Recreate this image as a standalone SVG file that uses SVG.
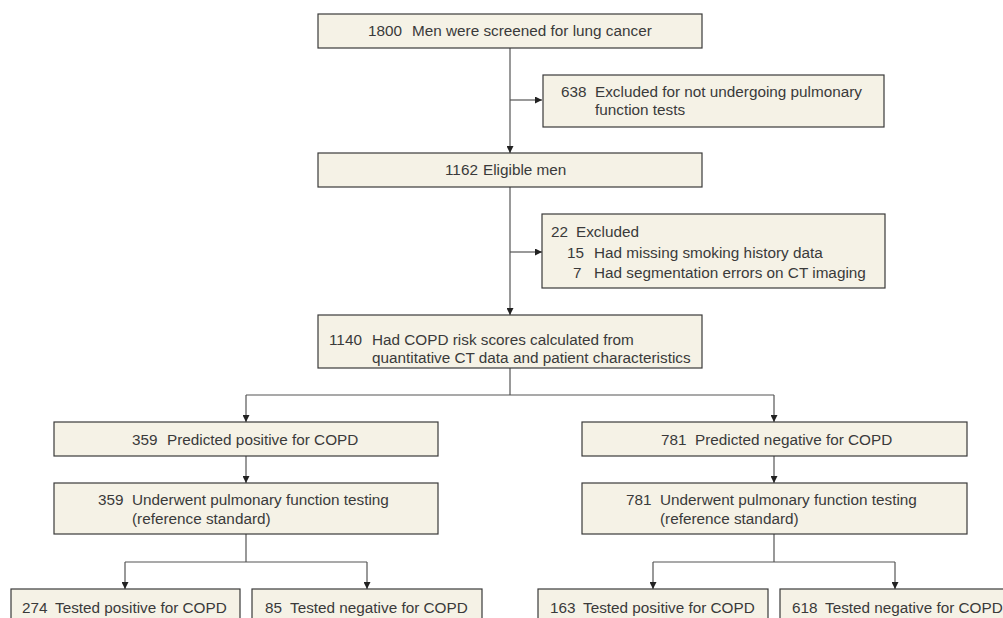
<svg xmlns="http://www.w3.org/2000/svg" width="1003" height="618" viewBox="0 0 1003 618">
<style>
.box{fill:#f5f2e6;stroke:#3a3a3a;stroke-width:1.2}
.t{font-family:"Liberation Sans",Arial,sans-serif;font-size:15.3px;fill:#3a3a3a}
.c{stroke:#555;stroke-width:1.2;fill:none}
</style>
<defs>
<marker id="ah" viewBox="0 0 10 10" refX="10" refY="5" markerWidth="7" markerHeight="7" markerUnits="userSpaceOnUse" orient="auto">
<path d="M0,0 L10,5 L0,10 z" fill="#222"/>
</marker>
</defs>
<rect width="1003" height="618" fill="#fff"/>
<g id="connectors">
<path class="c" d="M510,48 V153" marker-end="url(#ah)"/>
<path class="c" d="M510,100 H542" marker-end="url(#ah)"/>
<path class="c" d="M510,187 V315" marker-end="url(#ah)"/>
<path class="c" d="M510,252 H542" marker-end="url(#ah)"/>
<path class="c" d="M510,368 V395"/>
<path class="c" d="M246,395 H774"/>
<path class="c" d="M246,395 V422" marker-end="url(#ah)"/>
<path class="c" d="M774,395 V422" marker-end="url(#ah)"/>
<path class="c" d="M246,456 V483" marker-end="url(#ah)"/>
<path class="c" d="M774,456 V483" marker-end="url(#ah)"/>
<path class="c" d="M246,534 V562 M125,562 H367"/>
<path class="c" d="M125,562 V589" marker-end="url(#ah)"/>
<path class="c" d="M367,562 V589" marker-end="url(#ah)"/>
<path class="c" d="M774,534 V562 M653,562 H895"/>
<path class="c" d="M653,562 V589" marker-end="url(#ah)"/>
<path class="c" d="M895,562 V589" marker-end="url(#ah)"/>
</g>
<g id="n1800">
<rect class="box" x="318" y="14" width="384" height="34"/>
<text class="t" y="36"><tspan x="368">1800</tspan><tspan x="412">Men were screened for lung cancer</tspan></text>
</g>
<g id="n638">
<rect class="box" x="543" y="75" width="341" height="52"/>
<text class="t" y="97"><tspan x="561">638</tspan><tspan x="595">Excluded for not undergoing pulmonary</tspan></text>
<text class="t" x="595" y="115">function tests</text>
</g>
<g id="n1162">
<rect class="box" x="318" y="153" width="384" height="34"/>
<text class="t" y="175"><tspan x="445">1162</tspan><tspan x="483">Eligible men</tspan></text>
</g>
<g id="n22">
<rect class="box" x="542" y="214" width="343" height="74"/>
<text class="t" y="237"><tspan x="551">22</tspan><tspan x="576">Excluded</tspan></text>
<text class="t" y="258"><tspan x="567">15</tspan><tspan x="594">Had missing smoking history data</tspan></text>
<text class="t" y="278"><tspan x="573">7</tspan><tspan x="594">Had segmentation errors on CT imaging</tspan></text>
</g>
<g id="n1140">
<rect class="box" x="318" y="315" width="384" height="53"/>
<text class="t" y="345"><tspan x="329">1140</tspan><tspan x="372">Had COPD risk scores calculated from</tspan></text>
<text class="t" x="372" y="363">quantitative CT data and patient characteristics</text>
</g>
<g id="n359p">
<rect class="box" x="54" y="422" width="384" height="34"/>
<text class="t" y="445"><tspan x="132">359</tspan><tspan x="167">Predicted positive for COPD</tspan></text>
</g>
<g id="n781n">
<rect class="box" x="582" y="422" width="385" height="34"/>
<text class="t" y="445"><tspan x="661">781</tspan><tspan x="695">Predicted negative for COPD</tspan></text>
</g>
<g id="n359u">
<rect class="box" x="54" y="483" width="384" height="51"/>
<text class="t" y="505"><tspan x="98">359</tspan><tspan x="132">Underwent pulmonary function testing</tspan></text>
<text class="t" x="132" y="524">(reference standard)</text>
</g>
<g id="n781u">
<rect class="box" x="582" y="483" width="385" height="51"/>
<text class="t" y="505"><tspan x="626">781</tspan><tspan x="660">Underwent pulmonary function testing</tspan></text>
<text class="t" x="660" y="524">(reference standard)</text>
</g>
<g id="n274">
<rect class="box" x="11" y="589" width="229" height="40"/>
<text class="t" y="613"><tspan x="22">274</tspan><tspan x="55">Tested positive for COPD</tspan></text>
</g>
<g id="n85">
<rect class="box" x="252" y="589" width="230" height="40"/>
<text class="t" y="613"><tspan x="265">85</tspan><tspan x="290">Tested negative for COPD</tspan></text>
</g>
<g id="n163">
<rect class="box" x="538" y="589" width="230" height="40"/>
<text class="t" y="613"><tspan x="550">163</tspan><tspan x="583">Tested positive for COPD</tspan></text>
</g>
<g id="n618">
<rect class="box" x="780" y="589" width="230" height="40"/>
<text class="t" y="613"><tspan x="792">618</tspan><tspan x="825">Tested negative for COPD</tspan></text>
</g>
</svg>
